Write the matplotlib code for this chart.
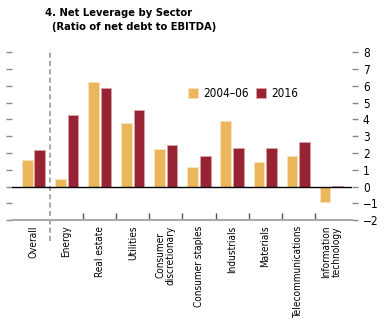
import numpy as np
import matplotlib
matplotlib.use('Agg')
import matplotlib.pyplot as plt

plt.rcParams['font.family'] = ['DejaVu Sans']
plt.rcParams['font.stretch'] = 'condensed'

sectors = ['Overall', 'Energy', 'Real estate', 'Utilities',
           'Consumer\ndiscretionary', 'Consumer staples', 'Industrials',
           'Materials', 'Telecommunications', 'Information\ntechnology']
lev_2004_06 = [1.6, 0.46, 6.25, 3.8, 2.25, 1.18, 3.9, 1.44, 1.82, -0.94]
lev_2016 = [2.2, 4.27, 5.85, 4.55, 2.5, 1.84, 2.3, 2.32, 2.65, 0.06]
yticks = [-2, -1, 0, 1, 2, 3, 4, 5, 6, 7, 8]

YELLOW = '#ECB65A'
RED = '#982433'

fig = plt.figure(figsize=(3.92, 3.29), dpi=100)
ax = fig.add_axes([0.0306, 0.331, 0.867, 0.52])

x = np.arange(len(sectors))
w = 0.32
ax.bar(x - 0.19, lev_2004_06, w, color=YELLOW, edgecolor='#F8E3C0',
       linewidth=0.6, label='2004\u201306', zorder=2)
ax.bar(x + 0.19, lev_2016, w, color=RED, edgecolor='#D9A0A6',
       linewidth=0.6, label='2016', zorder=2)

ax.set_xlim(-0.65, 9.62)
ax.set_ylim(-2, 8.2)
ax.axhline(0, color='black', lw=1.0, zorder=3)
ax.axvline(0.5, color='#999999', lw=1.2, ls=(0, (3, 2)), ymin=-0.12,
           ymax=1.0, clip_on=False, zorder=1)

for s in ['top', 'left', 'right']:
    ax.spines[s].set_visible(False)
ax.spines['bottom'].set_color('#AAAAAA')
ax.spines['bottom'].set_linewidth(1.5)

ax.set_yticks(yticks)
ax.set_yticklabels([str(t).replace('-', '\u2212') for t in yticks])
ax.tick_params(axis='y', left=True, right=True, labelleft=False,
               labelright=True, length=4, width=1, color='#888888',
               labelsize=8.5, pad=4)

ax.set_xticks(np.arange(1.5, 9.5, 1.0))
ax.set_xticks(x, minor=True)
ax.set_xticklabels([])
ax.set_xticklabels(sectors, minor=True, rotation=90, va='top',
                   ha='center', fontsize=7.2, linespacing=1.0)
ax.tick_params(axis='x', which='major', direction='in', length=5,
               color='#555555', width=1)
ax.tick_params(axis='x', which='minor', length=0, pad=4)

ax.legend(loc='upper left', bbox_to_anchor=(0.5, 0.81), ncol=2,
          frameon=False, fontsize=8.5, handlelength=0.9, handleheight=0.9,
          handletextpad=0.4, columnspacing=0.6, borderpad=0)

fig.text(0.115, 0.975, '4. Net Leverage by Sector', fontsize=8,
         fontweight='bold', va='top', ha='left')
fig.text(0.133, 0.932, '(Ratio of net debt to EBITDA)', fontsize=8,
         fontweight='bold', va='top', ha='left')

fig.savefig('out.png', dpi=100)
